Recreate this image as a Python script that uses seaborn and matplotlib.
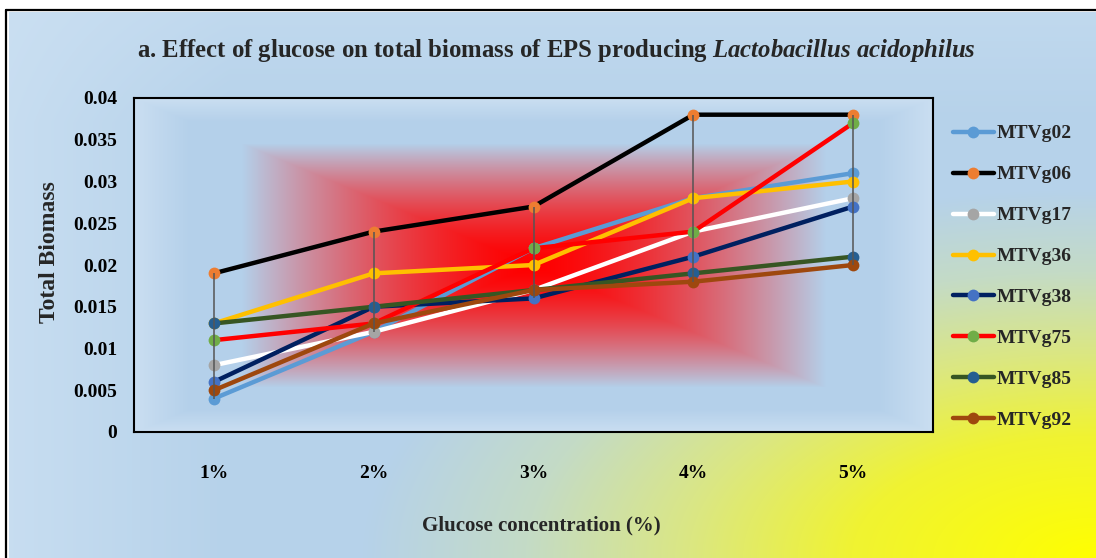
import numpy as np
import pandas as pd
import matplotlib
matplotlib.use("Agg")
import matplotlib.pyplot as plt
from matplotlib.lines import Line2D
import seaborn as sns

# ---- data -------------------------------------------------------------
concentrations = ["1%", "2%", "3%", "4%", "5%"]
strains = ["MTVg02", "MTVg06", "MTVg17", "MTVg36",
           "MTVg38", "MTVg75", "MTVg85", "MTVg92"]

mtvg02 = [0.004, 0.012, 0.022, 0.028, 0.031]
mtvg06 = [0.019, 0.024, 0.027, 0.038, 0.038]
mtvg17 = [0.008, 0.012, 0.017, 0.024, 0.028]
mtvg36 = [0.013, 0.019, 0.020, 0.028, 0.030]
mtvg38 = [0.006, 0.015, 0.016, 0.021, 0.027]
mtvg75 = [0.011, 0.013, 0.022, 0.024, 0.037]
mtvg85 = [0.013, 0.015, 0.017, 0.019, 0.021]
mtvg92 = [0.005, 0.013, 0.017, 0.018, 0.020]

y_ticks = [0, 0.005, 0.01, 0.015, 0.02, 0.025, 0.03, 0.035, 0.04]
y_tick_labels = ["0", "0.005", "0.01", "0.015", "0.02", "0.025", "0.03", "0.035", "0.04"]

series = [mtvg02, mtvg06, mtvg17, mtvg36, mtvg38, mtvg75, mtvg85, mtvg92]
line_colors = ["#5B9BD5", "#000000", "#FFFFFF", "#FFC000",
               "#002060", "#FF0000", "#375623", "#9E480E"]
marker_colors = ["#5B9BD5", "#ED7D31", "#A5A5A5", "#FFC000",
                 "#4472C4", "#70AD47", "#255E91", "#9E480E"]

df = pd.DataFrame({
    "strain": np.repeat(strains, len(concentrations)),
    "conc": concentrations * len(strains),
    "biomass": np.concatenate(series),
})

# ---- style ------------------------------------------------------------
sns.set_theme(style="white")
plt.rcParams["font.family"] = ["Liberation Serif", "DejaVu Serif"]
plt.rcParams["font.weight"] = "bold"
plt.rcParams["mathtext.fontset"] = "custom"
plt.rcParams["mathtext.it"] = "Liberation Serif:italic"
plt.rcParams["mathtext.rm"] = "Liberation Serif"

W, H = 1096, 558
fig = plt.figure(figsize=(W / 100, H / 100), dpi=100)
fig.patch.set_facecolor("white")

# ---- chart-area background: blue fading to yellow at lower right -------
bg = fig.add_axes([9 / W, 0, 1 - 9 / W, 1 - 12 / H], zorder=-5)
bh, bw = H - 12, W - 9
yy, xx = np.mgrid[0:bh, 0:bw].astype(float)
s = np.sqrt(((bw - xx) / (0.75 * bw)) ** 2 + ((bh - yy) / (0.75 * bh)) ** 2)
stops = [0.0, 0.3, 0.5, 0.7, 0.9, 10.0]
r = np.interp(s, stops, [255, 240, 219, 196, 182, 182])
g = np.interp(s, stops, [255, 243, 231, 219, 210, 210])
b = np.interp(s, stops, [0, 50, 130, 198, 234, 234])
img = np.dstack([r, g, b]) / 255.0
light = np.array([205, 225, 243]) / 255.0
lw_ = np.clip(1 - xx / 220, 0, 1)[..., None] * 0.75
img = img * (1 - lw_) + light * lw_
tw_ = np.clip(1 - yy / 110, 0, 1)[..., None] * 0.45
img = img * (1 - tw_) + light * tw_
bg.imshow(img, aspect="auto", extent=(0, 1, 0, 1), origin="upper")
bg.set_axis_off()

# outer frame
fig.add_artist(Line2D([6 / W, 1], [1 - 10 / H, 1 - 10 / H], color="black", lw=1.6,
                      transform=fig.transFigure))
fig.add_artist(Line2D([6 / W, 6 / W], [0, 1 - 10 / H], color="black", lw=1.6,
                      transform=fig.transFigure))

# ---- plot area --------------------------------------------------------
ax = fig.add_axes([134 / W, (H - 432) / H, 799 / W, 334 / H])
ax.set_facecolor("none")

# rectangular red-to-blue gradient inside the plot area
ph, pw = 334, 799
py, px = np.mgrid[0:ph, 0:pw].astype(float)
t = np.maximum(np.abs(px - pw / 2) / (pw / 2), np.abs(py - ph / 2) / (ph / 2))
f = np.clip(t / 0.73, 0, 1) ** 1.5
red = np.array([255, 0, 0]) / 255.0
blue = np.array([180, 208, 234]) / 255.0
pimg = red * (1 - f[..., None]) + blue * f[..., None]
e = (np.clip((t - 0.86) / 0.14, 0, 1) * 0.8)[..., None]
pimg = pimg * (1 - e) + np.array([208, 226, 243]) / 255.0 * e
ax.imshow(pimg, aspect="auto", extent=(-0.5, 4.5, 0, 0.04), origin="upper", zorder=0)

for name, lc, mc in zip(strains, line_colors, marker_colors):
    sub = df[df["strain"] == name]
    sns.lineplot(data=sub, x="conc", y="biomass", ax=ax, color=lc, lw=3.2,
                 marker="o", markersize=8.5, markerfacecolor=mc, markeredgecolor=mc,
                 markeredgewidth=0, sort=False, legend=False, zorder=3)

# high-low lines per concentration
hl = df.groupby("conc", sort=False)["biomass"].agg(["min", "max"])
ax.vlines(hl.index, hl["min"], hl["max"], colors="#555555", lw=1.1, zorder=5)

ax.set_xlim(-0.5, 4.5)
ax.set_ylim(0, 0.04)
ax.set_yticks(y_ticks)
ax.set_yticklabels(y_tick_labels)
ax.tick_params(axis="both", length=0, labelsize=14, colors="black")
ax.tick_params(axis="y", pad=12)
ax.tick_params(axis="x", pad=24)
for lab in ax.get_xticklabels() + ax.get_yticklabels():
    lab.set_fontweight("bold")
for sp in ax.spines.values():
    sp.set_visible(True)
    sp.set_color("black")
    sp.set_linewidth(1.5)
ax.grid(False)

ax.set_xlabel("Glucose concentration (%)", fontsize=15, fontweight="bold")
ax.xaxis.label.set_va("center")
ax.xaxis.set_label_coords((541 - 134) / 799, (432 - 525) / 334)
ax.set_ylabel("Total Biomass", fontsize=17, fontweight="bold")
ax.yaxis.label.set_va("center")
ax.yaxis.set_label_coords((49 - 134) / 799, (432 - 252) / 334)

fig.text(556 / W, 1 - 50 / H,
         r"a. Effect of glucose on total biomass of EPS producing $Lactobacillus\ acidophilus$",
         ha="center", va="center", fontsize=17.8, fontweight="bold")

handles = [Line2D([], [], color=lc, lw=3.2, marker="o", markersize=8.5,
                  markerfacecolor=mc, markeredgecolor=mc, markeredgewidth=0)
           for lc, mc in zip(line_colors, marker_colors)]
leg = fig.legend(handles, strains, loc="center left",
                 bbox_to_anchor=(953 / W, 1 - 277 / H), frameon=False,
                 prop={"family": "Liberation Serif", "weight": "bold", "size": 14},
                 handlelength=2.1, handletextpad=0.15, labelspacing=1.2,
                 borderpad=0, borderaxespad=0)

fig.savefig("out.png", dpi=100)
